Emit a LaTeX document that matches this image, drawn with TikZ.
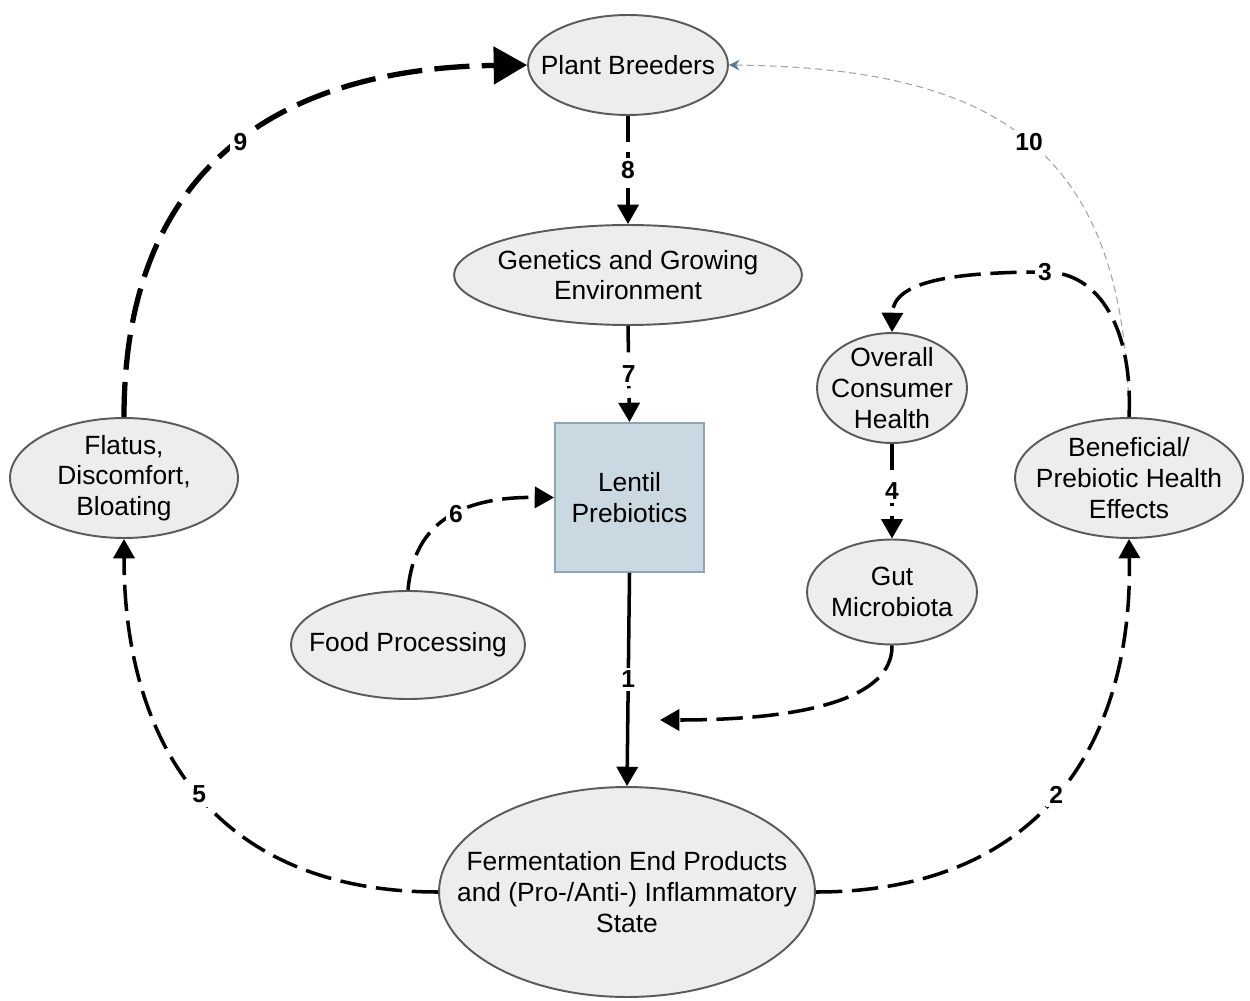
\documentclass[tikz,border=0pt]{standalone}
\usepackage{fontspec}
\setmainfont{Liberation Sans}
\usetikzlibrary{shapes.geometric,arrows.meta}
\definecolor{ellfill}{HTML}{EDEDED}
\definecolor{ellline}{HTML}{5A5A5A}
\definecolor{boxfill}{HTML}{CAD8E1}
\definecolor{boxline}{HTML}{8DA6B6}
\definecolor{thinline}{HTML}{9AA5AD}
\definecolor{thintip}{HTML}{5F7A8C}
\begin{document}
\begin{tikzpicture}[x=0.02cm,y=-0.02cm,
  ell/.style={ellipse, draw=ellline, fill=ellfill, line width=1.1pt, inner sep=0pt},
  txt/.style={font=\fontsize{15}{17.5}\selectfont, align=center, text=black, inner sep=0pt},
  lbl/.style={font=\fontsize{14}{16}\selectfont\bfseries, fill=white, inner sep=2pt},
  arr/.style={line width=2pt, -{Triangle[length=11pt,width=12pt]}},
  dsh/.style={dash pattern=on 15pt off 5.5pt},
  bigarr/.style={line width=3pt, dash pattern=on 20pt off 7pt, -{Triangle[length=19pt,width=21pt]}},
  thinarr/.style={draw=thinline, line width=0.6pt, dash pattern=on 4pt off 2.5pt, -{Stealth[length=6pt,width=6pt,color=thintip]}}
]
\useasboundingbox (0,0) rectangle (1250,1000);

% nodes
\node[ell, minimum width=4cm, minimum height=2cm] (pb) at (628,65) {};
\node[txt] (pbt) at (pb) {Plant Breeders};

\node[ell, minimum width=6.96cm, minimum height=2cm] (gen) at (628,275) {};
\node[txt] (gent) at (gen) {Genetics and Growing\\Environment};

\node[draw=boxline, fill=boxfill, line width=1.1pt, minimum width=2.98cm, minimum height=2.98cm, inner sep=0pt] (len) at (629.5,497.5) {};
\node[txt] (lent) at (len) {Lentil\\Prebiotics};

\node[ell, minimum width=3cm, minimum height=2.2cm] (och) at (892,388) {};
\node[txt] (ocht) at (och) {Overall\\Consumer\\Health};

\node[ell, minimum width=4.56cm, minimum height=2.4cm] (ben) at (1129,478) {};
\node[txt] (bent) at (ben) {Beneficial/\\Prebiotic Health\\Effects};

\node[ell, minimum width=3.4cm, minimum height=2.1cm] (gut) at (892,592) {};
\node[txt] (gutt) at (gut) {Gut\\Microbiota};

\node[ell, minimum width=4.68cm, minimum height=2.16cm] (food) at (408,645) {};
\node[txt] (foodt) at (food) {Food Processing};

\node[ell, minimum width=4.56cm, minimum height=2.4cm] (flat) at (124,478) {};
\node[txt] (flatt) at (flat) {Flatus,\\Discomfort,\\Bloating};

\node[ell, minimum width=7.52cm, minimum height=4.2cm] (fer) at (627,892) {};
\node[txt] (fert) at (fer) {Fermentation End Products\\and (Pro-/Anti-) Inflammatory\\State};

\coordinate (gutend) at (660,720);

% connectors
\draw[arr,dsh] (pb.south) -- node[lbl] (l8) {8} (gen.north);
\draw[arr,dsh] (gen.south) -- node[lbl] (l7) {7} (len.north);
\draw[arr] (len.south) -- node[lbl] (l1) {1} (fer.north);
\draw[arr,dsh] (och.south) -- node[lbl] (l4) {4} (gut.north);

\draw[arr,dsh] (gut.south) .. controls (893,700) and (800,720) .. (gutend);

\draw[arr,dsh] (fer.east) .. controls (1035,892) and (1133,750) .. node[lbl, pos=0.5] (l2) {2} (ben.south);
\draw[arr,dsh] (fer.west) .. controls (220,892) and (124,750) .. node[lbl, pos=0.5] (l5) {5} (flat.south);

\draw[arr,dsh] (food.north) .. controls (415,510) and (480,497) .. node[lbl, pos=0.5] (l6) {6} (len.west);

\draw[thinarr] (ben.north) .. controls (1125,150) and (1000,68) .. node[lbl, pos=0.5, fill=white] (l10) {10} (pb.east);

\draw[arr,dsh] (ben.north) .. controls (1133,330) and (1100,272) .. (1045,272) node[lbl] (l3) {3}
  .. controls (950,272) and (893,282) .. (och.north);

\draw[bigarr] (flat.north) .. controls (124,150) and (300,68) .. node[lbl, pos=0.5] (l9) {9} (pb.west);

\end{tikzpicture}
\end{document}
